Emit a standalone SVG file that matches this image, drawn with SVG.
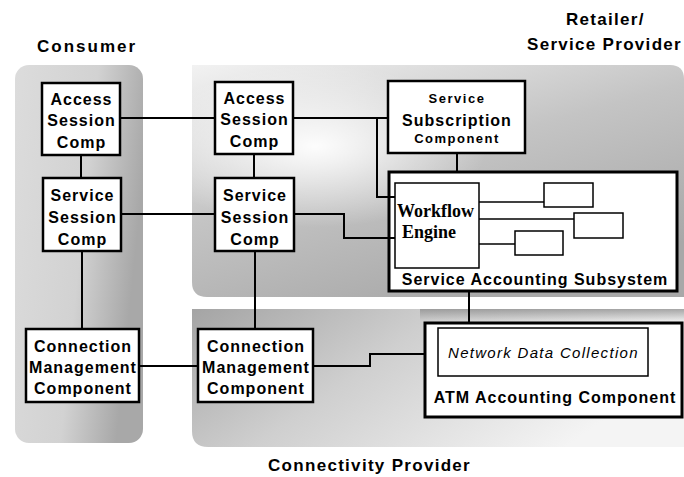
<svg xmlns="http://www.w3.org/2000/svg" width="684" height="477" viewBox="0 0 684 477">
<defs>
<linearGradient id="gCons" x1="0" y1="0" x2="1" y2="0.3">
<stop offset="0" stop-color="#dcdcdc"/>
<stop offset="0.6" stop-color="#d2d2d2"/>
<stop offset="1" stop-color="#a8a8a8"/>
</linearGradient>
<linearGradient id="gRet" x1="0" y1="0" x2="0.6" y2="1">
<stop offset="0" stop-color="#f2f2f2"/>
<stop offset="0.5" stop-color="#c4c4c4"/>
<stop offset="1" stop-color="#a8a8a8"/>
</linearGradient>
<radialGradient id="gRetHi" cx="0.25" cy="0.35" r="0.35">
<stop offset="0" stop-color="#ffffff" stop-opacity="0.95"/>
<stop offset="1" stop-color="#ffffff" stop-opacity="0"/>
</radialGradient>
<linearGradient id="gConn" x1="0" y1="0" x2="1" y2="0.4">
<stop offset="0" stop-color="#a4a4a4"/>
<stop offset="0.45" stop-color="#cfcfcf"/>
<stop offset="1" stop-color="#f4f4f4"/>
</linearGradient>
<linearGradient id="gConnTop" x1="0" y1="0" x2="0" y2="1">
<stop offset="0" stop-color="#888" stop-opacity="0.7"/>
<stop offset="1" stop-color="#888" stop-opacity="0"/>
</linearGradient>
<style>
.box{fill:#fff;stroke:#000;stroke-width:2.5}
.thick{fill:#fff;stroke:#000;stroke-width:3}
.thin{fill:#fff;stroke:#000;stroke-width:1.5}
.t{font-family:"Liberation Sans",Arial,sans-serif;font-weight:bold;font-size:16px;letter-spacing:1px;text-anchor:middle;fill:#000}
.ts{font-family:"Liberation Sans",Arial,sans-serif;font-weight:bold;font-size:13px;letter-spacing:1.5px;text-anchor:middle;fill:#000}
.lab{font-family:"Liberation Sans",Arial,sans-serif;font-weight:bold;font-size:17px;letter-spacing:1.3px;fill:#000}
.wf{font-family:"Liberation Serif","Times New Roman",serif;font-weight:bold;font-size:18px;fill:#000}
.nd{font-family:"Liberation Sans",Arial,sans-serif;font-style:italic;font-size:15px;letter-spacing:1.3px;fill:#000}
.c{fill:none;stroke:#000;stroke-width:2}
.cs{fill:none;stroke:#000;stroke-width:1.5}
</style>
</defs>

<g id="regions">
<rect x="15" y="65" width="128" height="378" rx="14" fill="url(#gCons)"/>
<path d="M192,65 H670 Q684,65 684,79 V297 H207 Q192,297 192,282 Z" fill="url(#gRet)"/>
<path d="M192,65 H670 Q684,65 684,79 V297 H207 Q192,297 192,282 Z" fill="url(#gRetHi)"/>
<path d="M192,309 H684 V447 H208 Q192,447 192,431 Z" fill="url(#gConn)"/>
<rect x="420" y="309" width="264" height="12" fill="url(#gConnTop)"/>
</g>

<g id="labels">
<text class="lab" x="37" y="52" style="letter-spacing:2px">Consumer</text>
<text class="lab" x="566" y="25">Retailer/</text>
<text class="lab" x="527" y="50">Service Provider</text>
<text class="lab" x="268" y="471">Connectivity Provider</text>
</g>

<g id="consumer-access">
<rect class="box" x="42" y="83" width="78" height="72"/>
<text class="t" x="81.5" y="104.5">Access</text>
<text class="t" x="81.5" y="126">Session</text>
<text class="t" x="81.5" y="147.5">Comp</text>
</g>

<g id="consumer-service">
<rect class="box" x="43" y="178" width="78" height="73"/>
<text class="t" x="82.5" y="200.5">Service</text>
<text class="t" x="82.5" y="222.5">Session</text>
<text class="t" x="82.5" y="244.5">Comp</text>
</g>

<g id="consumer-cmc">
<rect class="box" x="26" y="329" width="113" height="73"/>
<text class="t" x="83" y="351.5">Connection</text>
<text class="t" x="83" y="372.5">Management</text>
<text class="t" x="83" y="393.5">Component</text>
</g>

<g id="retailer-access">
<rect class="box" x="215" y="82" width="78" height="72"/>
<text class="t" x="254.5" y="103.5">Access</text>
<text class="t" x="254.5" y="125">Session</text>
<text class="t" x="254.5" y="146.5">Comp</text>
</g>

<g id="retailer-service">
<rect class="box" x="215" y="178" width="79" height="73"/>
<text class="t" x="255" y="200.5">Service</text>
<text class="t" x="255" y="222.5">Session</text>
<text class="t" x="255" y="244.5">Comp</text>
</g>

<g id="connectivity-cmc">
<rect class="box" x="198" y="329" width="115" height="73"/>
<text class="t" x="256" y="351.5">Connection</text>
<text class="t" x="256" y="372.5">Management</text>
<text class="t" x="256" y="393.5">Component</text>
</g>

<g id="service-subscription">
<rect class="box" x="388" y="81" width="137" height="72"/>
<text class="ts" x="457" y="103">Service</text>
<text class="t" x="457" y="125.5">Subscription</text>
<text class="ts" x="457" y="143">Component</text>
</g>

<g id="service-accounting">
<rect class="thick" x="389" y="172" width="288" height="119"/>
<text class="t" x="535" y="285">Service Accounting Subsystem</text>
</g>

<g id="workflow-engine">
<rect class="thin" x="395" y="183" width="84" height="85"/>
<text class="wf" x="397" y="217">Workflow</text>
<text class="wf" x="402" y="238">Engine</text>
</g>

<g id="sub-box-1"><rect class="thin" x="544" y="183" width="49" height="24"/></g>
<g id="sub-box-2"><rect class="thin" x="574" y="213" width="49" height="25"/></g>
<g id="sub-box-3"><rect class="thin" x="515" y="231" width="48" height="24"/></g>

<g id="atm-accounting">
<rect class="thick" x="425" y="323" width="257" height="94"/>
<text class="t" x="555" y="403">ATM Accounting Component</text>
</g>

<g id="network-data-collection">
<rect class="thin" x="438" y="328" width="210" height="48"/>
<text class="nd" x="448" y="358">Network Data Collection</text>
</g>

<g id="connectors">
<line class="c" x1="120" y1="118" x2="215" y2="118"/>
<line class="c" x1="81" y1="155" x2="81" y2="178"/>
<line class="c" x1="121" y1="214" x2="215" y2="214"/>
<line class="c" x1="82" y1="251" x2="82" y2="329"/>
<line class="c" x1="139" y1="366" x2="198" y2="366"/>
<line class="c" x1="254" y1="154" x2="254" y2="178"/>
<line class="c" x1="255" y1="251" x2="255" y2="329"/>
<polyline class="c" points="293,118 388,118"/>
<polyline class="c" points="377,118 377,197 395,197"/>
<polyline class="c" points="294,214 344,214 344,238 395,238"/>
<line class="c" x1="457" y1="153" x2="457" y2="172"/>
<line class="c" x1="469" y1="291" x2="469" y2="323"/>
<polyline class="c" points="313,366 370,366 370,354 425,354"/>
<line class="cs" x1="479" y1="202" x2="544" y2="202"/>
<line class="cs" x1="479" y1="219" x2="574" y2="219"/>
<line class="cs" x1="479" y1="244" x2="515" y2="244"/>
</g>
</svg>
